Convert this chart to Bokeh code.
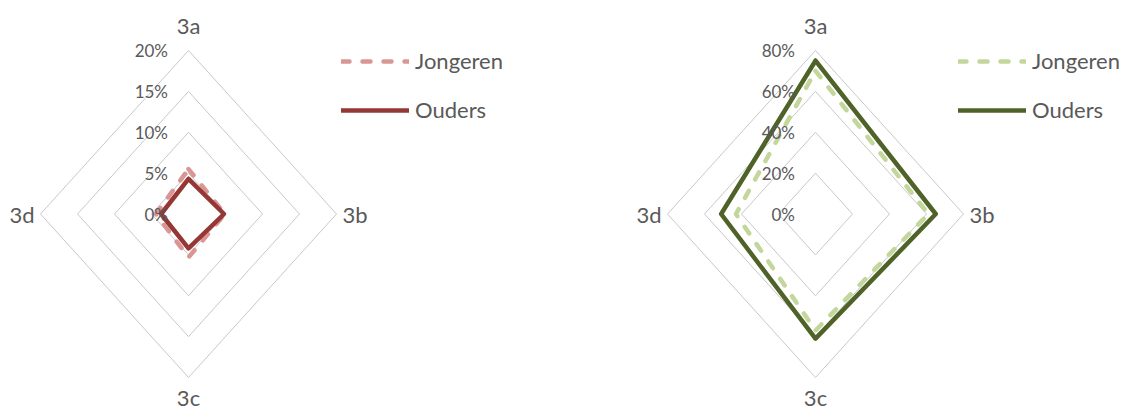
import math
from bokeh.plotting import figure
from bokeh.layouts import row
from bokeh.models import Legend, LegendItem
from bokeh.core.properties import value
from bokeh.embed import file_html
from bokeh.resources import INLINE

# ---- data ----
categories = ["3a", "3b", "3c", "3d"]

left_ticks = [0, 5, 10, 15, 20]
left_tick_labels = ["0%", "5%", "10%", "15%", "20%"]
left_jongeren = [5.5, 4.9, 5.3, 4.4]
left_ouders = [4.3, 4.8, 4.2, 3.7]

right_ticks = [0, 20, 40, 60, 80]
right_tick_labels = ["0%", "20%", "40%", "60%", "80%"]
right_jongeren = [70, 61, 57, 43]
right_ouders = [75, 65, 61, 51]

series_names = ["Jongeren", "Ouders"]
left_colors = ["#D99694", "#953735"]
right_colors = ["#C3D69B", "#4F6228"]

TEXT = "#595959"
GRID = "#C8C8C8"
FONT = "Lato"
FONT_V = value(FONT)

W, H = 563, 412


def to_xy(vals):
    xs, ys = [], []
    for i, v in enumerate(vals + vals[:1]):
        a = math.radians(90 - 90 * (i % len(vals)))
        xs.append(v * math.cos(a))
        ys.append(v * math.sin(a))
    return xs, ys


def panel(cx, ticks, tick_labels, jong, oud, colors, legend_x):
    maxv = ticks[-1]
    cy, rx, ry = 213.5, 148.0, 163.5
    kx = maxv / rx  # data units per px
    ky = maxv / ry
    p = figure(width=W, height=H, output_backend="svg", toolbar_location=None,
               x_range=(-cx * kx, (W - cx) * kx),
               y_range=(-(H - cy) * ky, cy * ky),
               min_border=0)
    p.axis.visible = False
    p.grid.visible = False
    p.outline_line_color = None
    p.background_fill_color = "white"
    p.border_fill_color = "white"

    # rings
    for t in ticks[1:]:
        xs, ys = to_xy([t] * len(categories))
        p.line(xs, ys, line_color=GRID, line_width=1)

    # series
    xs, ys = to_xy(jong)
    r1 = p.line(xs, ys, line_color=colors[0], line_width=4.5,
                line_dash="8 13", line_cap="round", line_join="round")
    xs, ys = to_xy(oud)
    r2 = p.line(xs, ys, line_color=colors[1], line_width=4.5,
                line_join="round", line_cap="round")
    rends = [r1, r2]

    # tick labels
    p.text(x=[-20.5 * kx] * len(ticks), y=ticks, text=tick_labels,
           text_align="right", text_baseline="middle",
           text_font_size="17px", text_color=TEXT, text_font=FONT_V)

    # category labels
    gap_top = 25
    gap_bot = 20
    gap_h = 6
    fs = "22px"
    p.text(x=[0], y=[maxv + gap_top * ky], text=[categories[0]], text_align="center",
           text_baseline="middle", text_font_size=fs, text_color=TEXT, text_font=FONT_V)
    p.text(x=[maxv + gap_h * kx], y=[0], text=[categories[1]], text_align="left",
           text_baseline="middle", text_font_size=fs, text_color=TEXT, text_font=FONT_V)
    p.text(x=[0], y=[-maxv - gap_bot * ky], text=[categories[2]], text_align="center",
           text_baseline="middle", text_font_size=fs, text_color=TEXT, text_font=FONT_V)
    p.text(x=[-maxv - gap_h * kx], y=[0], text=[categories[3]], text_align="right",
           text_baseline="middle", text_font_size=fs, text_color=TEXT, text_font=FONT_V)

    legend = Legend(items=[LegendItem(label=n, renderers=[r]) for n, r in zip(series_names, rends)],
                    location=(legend_x, 289), padding=0, margin=0,
                    glyph_width=68, glyph_height=20, label_height=20,
                    label_standoff=6, spacing=22,
                    label_text_font=FONT, label_text_font_size="22px",
                    label_text_color=TEXT, border_line_color=None,
                    background_fill_alpha=0)
    p.add_layout(legend, "center")
    return p


p1 = panel(188.0, left_ticks, left_tick_labels, left_jongeren, left_ouders, left_colors, 341)
p2 = panel(815.0 - W, right_ticks, right_tick_labels, right_jongeren, right_ouders, right_colors, 395)

layout = row(p1, p2, spacing=0)
open("out.html", "w").write(file_html(layout, INLINE))
